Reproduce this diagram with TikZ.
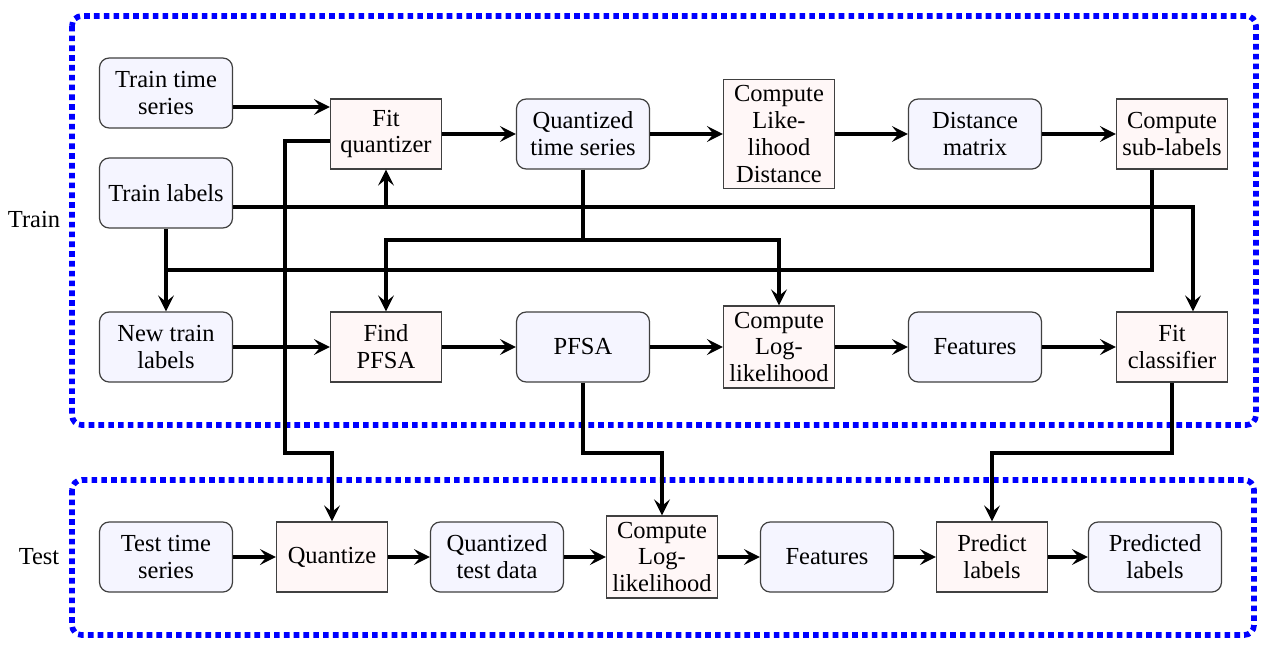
\documentclass[tikz,border=0pt]{standalone}
\usepackage{fontspec}
\setmainfont{Liberation Serif}
\newfontfamily\timesfont{Liberation Serif}
\usetikzlibrary{calc,arrows.meta}
\begin{document}
\begin{tikzpicture}[x=0.4082pt,y=-0.4082pt,
 font=\timesfont\fontsize{10}{11}\selectfont,
 data/.style={draw=black!75, line width=0.5pt, fill=blue!4, rounded corners=4pt, align=center, minimum width=54.3pt, minimum height=28.6pt, inner sep=2.4pt},
 proc/.style={draw=black!75, line width=0.5pt, fill=red!3, align=center, minimum width=45.3pt, minimum height=28.6pt, inner sep=2.4pt},
 conn/.style={line width=1.6pt, -{Stealth[length=6.5pt,width=6.5pt,inset=2.6pt]}},
 wire/.style={line width=1.6pt},
 frame/.style={draw=blue, line width=2.3pt, dash pattern=on 2.3pt off 1.7pt, rounded corners=4pt}]
\useasboundingbox (0,0) rectangle (1267,647);

% frames
\draw[frame] (72,16) rectangle (1256,425);
\draw[frame] (72,480) rectangle (1254,635);
\node (trainlbl) at (34,220) {Train};
\node (testlbl) at (39,557) {Test};

% train row 1
\node[data] (ts) at (166,93) {Train time\\series};
\node[proc] (fq) at (386,134) {Fit\\quantizer};
\node[data] (qts) at (583,134) {Quantized\\time series};
\node[proc] (cld) at (779,134) {Compute\\Like-\\lihood\\Distance};
\node[data] (dm) at (975,134) {Distance\\matrix};
\node[proc] (csl) at (1172,134) {Compute\\sub-labels};
\node[data] (tl) at (166,193) {Train labels};
% train row 2
\node[data] (ntl) at (166,347) {New train\\labels};
\node[proc] (fp) at (386,347) {Find\\PFSA};
\node[data] (pfsa) at (583,347) {PFSA};
\node[proc] (cll) at (779,347) {Compute\\Log-\\likelihood};
\node[data] (feat) at (975,347) {Features};
\node[proc] (fc) at (1172,347) {Fit\\classifier};
% test row
\node[data] (tts) at (166,557) {Test time\\series};
\node[proc] (qz) at (332,557) {Quantize};
\node[data] (qtd) at (497,557) {Quantized\\test data};
\node[proc] (tcll) at (662,557) {Compute\\Log-\\likelihood};
\node[data] (tfeat) at (827,557) {Features};
\node[proc] (pl) at (992,557) {Predict\\labels};
\node[data] (pdl) at (1155,557) {Predicted\\labels};

% helper coordinates
\coordinate (qbend) at (285,453);
\coordinate (tly) at ($(tl.east)+(0,14)$);
\coordinate (jn) at (166,270);
\coordinate (qy) at (583,240);
\coordinate (fcy) at (1172,453);
\coordinate (pfy) at (583,453);

% straight connectors
\draw[conn] ($(ts.east)+(0,14)$) -- ($(fq.west)+(0,-27)$);
\draw[conn] (fq) -- (qts);
\draw[conn] (qts) -- (cld);
\draw[conn] (cld) -- (dm);
\draw[conn] (dm) -- (csl);
\draw[conn] (ntl) -- (fp);
\draw[conn] (fp) -- (pfsa);
\draw[conn] (pfsa) -- (cll);
\draw[conn] (cll) -- (feat);
\draw[conn] (feat) -- (fc);
\draw[conn] (tts) -- (qz);
\draw[conn] (qz) -- (qtd);
\draw[conn] (qtd) -- (tcll);
\draw[conn] (tcll) -- (tfeat);
\draw[conn] (tfeat) -- (pl);
\draw[conn] (pl) -- (pdl);

% routed connectors
\draw[conn] ($(fq.west)+(0,7)$) -| (qbend) -| (qz.north);
\draw[conn] (tly) -| ($(fc.north)+(21,0)$);
\draw[conn] (tly -| fq.south) -- (fq.south);
\draw[conn] (tl.south) -- (ntl.north);
\draw[wire] ($(csl.south)+(-20,0)$) |- (jn);
\draw[wire] (qts.south) -- (qy);
\draw[conn] (qy) -| (fp.north);
\draw[conn] (qy) -| (cll.north);
\draw[conn] (fc.south) -- (fcy) -| (pl.north);
\draw[conn] (pfsa.south) -- (pfy) -| (tcll.north);
\end{tikzpicture}
\end{document}
